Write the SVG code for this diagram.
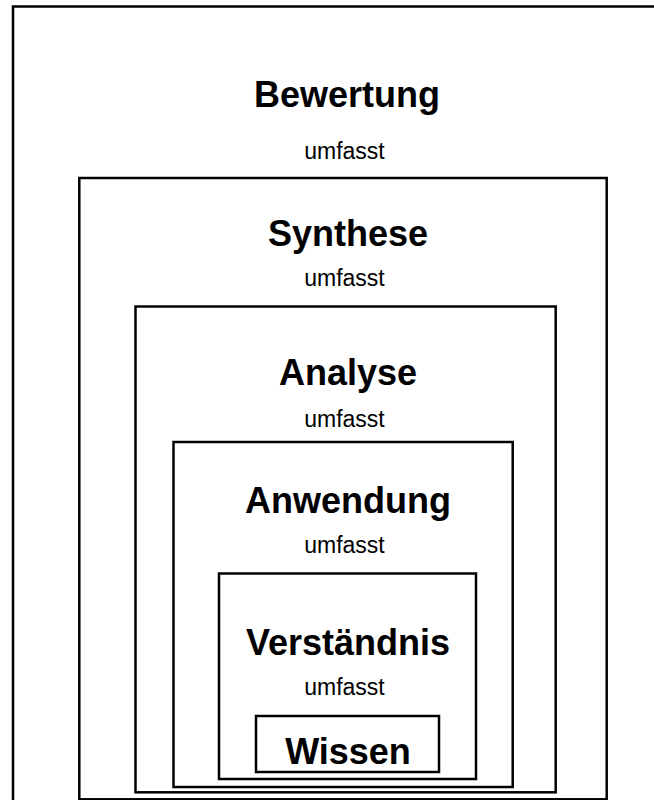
<svg xmlns="http://www.w3.org/2000/svg" width="654" height="800" viewBox="0 0 654 800">
<style>
.box{fill:#fff;stroke:#000;stroke-width:2.5}
.t{font-family:"Liberation Sans",Arial,sans-serif;font-weight:bold;font-size:36px;text-anchor:middle;fill:#000}
.u{font-family:"Liberation Sans",Arial,sans-serif;font-size:23px;text-anchor:middle;fill:#000}
</style>
<rect width="654" height="800" fill="#fff"/>
<g id="bewertung">
<rect class="box" x="13" y="6.5" width="700" height="850"/>
<text class="t" x="347" y="107">Bewertung</text>
<text class="u" x="344.5" y="159">umfasst</text>
</g>
<g id="synthese">
<rect class="box" x="79.3" y="178" width="527.4" height="621.3"/>
<text class="t" x="348" y="246">Synthese</text>
<text class="u" x="344.5" y="285.5">umfasst</text>
</g>
<g id="analyse">
<rect class="box" x="135.5" y="306.5" width="420.2" height="485.8"/>
<text class="t" x="348" y="385">Analyse</text>
<text class="u" x="344.5" y="427">umfasst</text>
</g>
<g id="anwendung">
<rect class="box" x="173.5" y="442" width="339.2" height="345"/>
<text class="t" x="348" y="513">Anwendung</text>
<text class="u" x="344.5" y="553">umfasst</text>
</g>
<g id="verstaendnis">
<rect class="box" x="219" y="573.5" width="257" height="205.5"/>
<text class="t" x="348" y="655">Verständnis</text>
<text class="u" x="344.5" y="695">umfasst</text>
</g>
<g id="wissen">
<rect class="box" x="256" y="716" width="183" height="56"/>
<text class="t" x="348" y="764">Wissen</text>
</g>
<g id="connectors"/>
</svg>
